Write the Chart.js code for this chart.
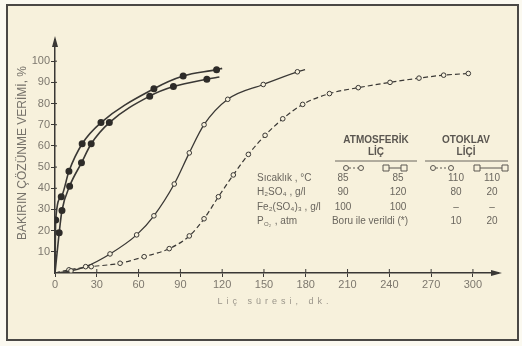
<!DOCTYPE html>
<html><head><meta charset="utf-8">
<script src="https://cdn.jsdelivr.net/npm/chart.js@4/dist/chart.umd.min.js"></script>
<style>html,body{margin:0;padding:0;background:#fbf9f0;}#wrap{width:522px;height:346px;position:relative;}</style>
</head><body><div id="wrap"><canvas id="c" width="522" height="346"></canvas></div>
<script>
// Data (time in minutes, copper dissolution in %)
const otoklav110_20_x = [0, 0.5, 4.5, 10, 19.5, 33, 71, 92, 116, 120];
const otoklav110_20_y = [0, 25, 36, 48, 61, 71, 87, 93, 96, 96.6];
const otoklav110_80_x = [0, 3, 5, 10.5, 19, 26, 39, 68, 85, 109, 118];
const otoklav110_80_y = [0, 19, 29.5, 41, 52, 61, 71, 83.5, 88, 91.5, 92.5];
const atm85_120_x = [0, 11.5, 22, 39.5, 58.6, 71, 85.6, 96.4, 107, 124, 149.5, 174, 179.5];
const atm85_120_y = [0, 1, 3, 9, 18, 27, 42, 56.7, 70, 82, 89, 95, 96];
const atm85_90_x = [0, 10, 26, 46.7, 64, 82, 96.4, 107, 117.3, 128, 138.8, 150.8, 163.5, 177.8, 197, 217.7, 240.5, 261.3, 279, 296.7];
const atm85_90_y = [0, 1.5, 3, 4.6, 7.7, 11.5, 17.5, 25.6, 36, 46.3, 56, 65, 72.8, 79.6, 84.7, 87.5, 90, 92, 93.4, 94.2];
const xTicks = [0, 30, 60, 90, 120, 150, 180, 210, 240, 270, 300];
const yTicks = [10, 20, 30, 40, 50, 60, 70, 80, 90, 100];
const tableHeads = ["ATMOSFERİK", "LİÇ", "OTOKLAV", "LİÇİ"];
const rowLabels = ["Sıcaklık , °C", "H₂SO₄ , g/l", "Fe₂(SO₄)₃ , g/l", "P    , atm"];
const rowValues = [["85", "85", "110", "110"], ["90", "120", "80", "20"], ["100", "100", "–", "–"], ["", "", "10", "20"]];
const noteText = "Boru ile verildi (*)";
const yTitle = "BAKIRIN ÇÖZÜNME VERİMİ, %";
const xTitle = "Liç süresi, dk.";

const pts = (xs, ys) => xs.map((x, i) => ({x: x, y: ys[i]}));
const endsHidden = (n, r, hideFirst, hideLast) => Array.from({length: n}, (_, i) => (hideFirst && i === 0) || (hideLast && i === n - 1) ? 0 : r);

const INK = '#3a3835';
const FONT = '"Liberation Sans", Arial, sans-serif';

const deco = {
  id: 'deco',
  beforeDraw(chart) {
    const ctx = chart.ctx;
    ctx.save();
    ctx.fillStyle = '#fbf9f0';
    ctx.fillRect(0, 0, 522, 346);
    ctx.fillStyle = '#f7f1dc';
    ctx.fillRect(7, 5, 511, 335);
    ctx.strokeStyle = '#4a4845';
    ctx.lineWidth = 2;
    ctx.strokeRect(7, 5, 511, 335);
    ctx.restore();
  },
  afterDraw(chart) {
    const ctx = chart.ctx;
    const xs = chart.scales.x, ys = chart.scales.y;
    const x0 = xs.getPixelForValue(0), y0 = ys.getPixelForValue(0);
    const xEnd = xs.right, yEnd = ys.top;
    ctx.save();
    // arrowheads
    ctx.fillStyle = INK;
    ctx.beginPath();
    ctx.moveTo(x0, yEnd - 4); ctx.lineTo(x0 - 3, yEnd + 7); ctx.lineTo(x0 + 3, yEnd + 7); ctx.closePath(); ctx.fill();
    ctx.beginPath();
    ctx.moveTo(xEnd + 4, y0); ctx.lineTo(xEnd - 7, y0 - 3); ctx.lineTo(xEnd - 7, y0 + 3); ctx.closePath(); ctx.fill();
    // small tick crossings above the x axis
    ctx.strokeStyle = INK; ctx.lineWidth = 1;
    xTicks.forEach(v => { if (v > 0) { const p = xs.getPixelForValue(v); ctx.beginPath(); ctx.moveTo(p, y0); ctx.lineTo(p, y0 - 4); ctx.stroke(); } });
    yTicks.forEach(v => { const p = ys.getPixelForValue(v); ctx.beginPath(); ctx.moveTo(x0, p); ctx.lineTo(x0 + 2, p); ctx.stroke(); });
    // y title
    ctx.fillStyle = '#77736b';
    ctx.font = '12px ' + FONT;
    ctx.translate(23, 153);
    ctx.rotate(-Math.PI / 2);
    ctx.textAlign = 'center'; ctx.textBaseline = 'middle';
    ctx.fillText(yTitle, 0, 0);
    ctx.restore();
    ctx.save();
    // x title
    ctx.fillStyle = '#9a958a';
    ctx.font = '9px ' + FONT;
    ctx.letterSpacing = '4px';
    ctx.textAlign = 'center'; ctx.textBaseline = 'middle';
    ctx.fillText(xTitle, 275, 302);
    ctx.restore();
    // table
    ctx.save();
    ctx.fillStyle = '#5a5650';
    ctx.font = 'bold 10px ' + FONT;
    ctx.textAlign = 'center'; ctx.textBaseline = 'middle';
    ctx.fillText(tableHeads[0], 376, 140);
    ctx.fillText(tableHeads[1], 376, 152);
    ctx.fillText(tableHeads[2], 466, 140);
    ctx.fillText(tableHeads[3], 466, 152);
    ctx.strokeStyle = '#6a665e'; ctx.lineWidth = 1;
    ctx.beginPath(); ctx.moveTo(335, 161); ctx.lineTo(417, 161); ctx.moveTo(425, 161); ctx.lineTo(508, 161); ctx.stroke();
    // legend symbols
    const sym = (xa, xb, y, dashed, square) => {
      ctx.save();
      ctx.strokeStyle = '#5a5650'; ctx.lineWidth = 1;
      ctx.setLineDash(dashed ? [2, 2] : []);
      ctx.beginPath(); ctx.moveTo(xa + 3, y); ctx.lineTo(xb - 3, y); ctx.stroke();
      ctx.setLineDash([]);
      [xa, xb].forEach(cx => {
        ctx.beginPath();
        if (square) ctx.rect(cx - 3, y - 3, 6, 6); else ctx.arc(cx, y, 2.5, 0, Math.PI * 2);
        ctx.fillStyle = '#f7f1dc'; ctx.fill(); ctx.stroke();
      });
      ctx.restore();
    };
    sym(346, 361, 168, true, false);
    sym(386, 404, 168, false, true);
    sym(433, 451, 168, true, false);
    sym(477, 505, 168, false, true);
    ctx.font = '10px ' + FONT;
    ctx.fillStyle = '#6a665e';
    const rowY = [178, 192, 207, 221];
    const colX = [343, 398, 456, 492];
    rowLabels.forEach((lab, i) => {
      ctx.textAlign = 'left';
      ctx.fillText(lab, 257, rowY[i]);
      rowValues[i].forEach((v, j) => { ctx.textAlign = 'center'; ctx.fillText(v, colX[j], rowY[i]); });
    });
    ctx.font = '6px ' + FONT; ctx.textAlign = 'left';
    ctx.fillText('O₂', 264, 224);
    ctx.font = '10px ' + FONT; ctx.textAlign = 'center';
    ctx.fillText(noteText, 370, 221);
    ctx.restore();
  }
};

new Chart(document.getElementById('c'), {
  type: 'line',
  data: {
    datasets: [
      {data: pts(otoklav110_20_x, otoklav110_20_y), borderColor: INK, borderWidth: 1.6, pointBackgroundColor: '#2e2c29', pointBorderColor: '#2e2c29', pointRadius: endsHidden(otoklav110_20_x.length, 2.7, true, true), cubicInterpolationMode: 'monotone'},
      {data: pts(otoklav110_80_x, otoklav110_80_y), borderColor: INK, borderWidth: 1.6, pointBackgroundColor: '#2e2c29', pointBorderColor: '#2e2c29', pointRadius: endsHidden(otoklav110_80_x.length, 2.7, true, true), cubicInterpolationMode: 'monotone'},
      {data: pts(atm85_120_x, atm85_120_y), borderColor: INK, borderWidth: 1.3, pointBackgroundColor: '#f7f1dc', pointBorderColor: INK, pointBorderWidth: 1, pointRadius: endsHidden(atm85_120_x.length, 2.3, true, true), cubicInterpolationMode: 'monotone'},
      {data: pts(atm85_90_x, atm85_90_y), borderColor: INK, borderWidth: 1.2, borderDash: [5, 3], pointBackgroundColor: '#f7f1dc', pointBorderColor: INK, pointBorderWidth: 1, pointRadius: endsHidden(atm85_90_x.length, 2.3, true, false), cubicInterpolationMode: 'monotone'}
    ]
  },
  options: {
    responsive: false,
    animation: false,
    layout: {padding: {left: 8, right: 24, top: 40, bottom: 33}},
    plugins: {legend: {display: false}, tooltip: {enabled: false}},
    scales: {
      x: {
        type: 'linear', min: 0, max: 318,
        afterFit(s) { s.height = 40; },
        afterBuildTicks(s) { s.ticks = xTicks.map(v => ({value: v})); },
        border: {display: true, color: INK, width: 1.5},
        grid: {drawOnChartArea: false, drawTicks: true, tickLength: 4, color: INK},
        ticks: {color: '#7d786e', font: {family: FONT, size: 11}, padding: 1, maxRotation: 0}
      },
      y: {
        type: 'linear', min: 0, max: 110,
        afterFit(s) { s.width = 47; },
        afterBuildTicks(s) { s.ticks = yTicks.map(v => ({value: v})); },
        border: {display: true, color: INK, width: 1.5},
        grid: {drawOnChartArea: false, drawTicks: true, tickLength: 4, color: INK},
        ticks: {color: '#7d786e', font: {family: FONT, size: 11}, padding: 1}
      }
    }
  },
  plugins: [deco]
});
</script></body></html>
